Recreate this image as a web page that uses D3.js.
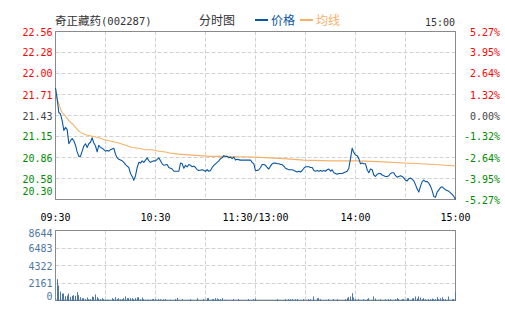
<!DOCTYPE html>
<html>
<head>
<meta charset="utf-8">
<script src="https://cdn.jsdelivr.net/npm/d3@7/dist/d3.min.js"></script>
<style>
  html, body { margin: 0; padding: 0; background: #fff; }
  svg { display: block; }
</style>
</head>
<body>
<svg id="chart" width="505" height="330"></svg>
<script>
// 奇正藏药 (002287) intraday minute chart
const stockName = "奇正藏药";
const stockCode = "(002287)";
const prevClose = 21.43;

const priceTicks = [22.56, 22.28, 22.00, 21.71, 21.43, 21.15, 20.86, 20.58, 20.30];
const pctTicks = ["5.27%", "3.95%", "2.64%", "1.32%", "0.00%", "-1.32%", "-2.64%", "-3.95%", "-5.27%"];
const timeTicks = [0, 60, 120, 180, 240];
const timeLabels = ["09:30", "10:30", "11:30/13:00", "14:00", "15:00"];
const volTicks = [8644, 6483, 4322, 2161, 0];

// minute offset from 09:30 (lunch break removed) and last price
const priceMinutes = [
  0,1,2,3,4,5,6,7,8,9,10,11,12,13,14,15,16,17,18,19,20,21,22,23,24,25,26,27,28,29,
  30,31,32,33,34,35,36,37,38,39,40,41,42,43,44,45,46,47,48,49,50,51,52,53,54,55,56,57,58,59,
  60,62,63,64,65,67,68,70,71,72,74,75,76,77,78,79,80,81,82,83,84,85,86,88,89,
  90,91,92,93,94,95,96,97,98,99,100,101,102,103,104,105,106,107,108,109,111,114,117,118,119,
  120,121,122,123,124,125,126,127,128,129,130,131,132,133,134,135,136,137,138,139,140,142,143,144,145,146,147,148,149,
  150,152,153,154,155,156,157,158,159,160,161,162,163,164,165,166,167,168,169,170,172,173,174,175,176,177,178,179,
  180,181,182,183,184,185,186,187,188,189,190,191,192,193,194,195,196,197,198,199,200,201,202,203,204,205,206,207,208,209,
  210,211,212,213,214,215,216,217,218,219,220,221,222,223,224,225,226,227,228,229,230,231,232,233,234,235,236,237,238,239,240
];
const prices = [
  21.80,21.65,21.47,21.45,21.36,21.23,21.27,21.24,21.05,21.09,21.12,21.09,21.03,20.94,20.88,20.88,20.95,21.02,21.05,21.00,21.05,21.07,21.13,21.06,21.02,20.94,21.03,21.00,20.99,20.97,
  20.95,20.96,20.95,20.97,20.98,20.99,20.91,20.86,20.84,20.83,20.82,20.80,20.77,20.75,20.73,20.65,20.61,20.56,20.62,20.73,20.80,20.79,20.82,20.80,20.83,20.86,20.82,20.80,20.81,20.82,
  20.82,20.86,20.82,20.78,20.76,20.77,20.73,20.71,20.68,20.68,20.68,20.79,20.78,20.72,20.76,20.74,20.77,20.76,20.74,20.75,20.73,20.70,20.69,20.70,20.69,
  20.68,20.70,20.68,20.69,20.73,20.76,20.78,20.80,20.82,20.85,20.86,20.89,20.88,20.88,20.86,20.87,20.85,20.87,20.83,20.84,20.83,20.83,20.83,20.80,20.78,
  20.69,20.69,20.70,20.73,20.77,20.77,20.76,20.73,20.71,20.75,20.78,20.79,20.79,20.78,20.78,20.77,20.77,20.75,20.72,20.71,20.70,20.70,20.69,20.68,20.67,20.68,20.67,20.69,20.72,
  20.74,20.74,20.73,20.73,20.69,20.68,20.69,20.68,20.69,20.68,20.69,20.68,20.70,20.71,20.68,20.70,20.66,20.65,20.64,20.65,20.65,20.66,20.67,20.68,20.72,20.85,20.99,20.93,
  20.90,20.89,20.85,20.78,20.79,20.78,20.78,20.70,20.66,20.71,20.70,20.63,20.61,20.64,20.65,20.65,20.63,20.62,20.61,20.61,20.62,20.65,20.66,20.66,20.62,20.60,20.61,20.62,20.61,20.59,
  20.56,20.55,20.58,20.59,20.57,20.55,20.50,20.44,20.40,20.48,20.54,20.56,20.54,20.54,20.52,20.48,20.42,20.34,20.33,20.40,20.43,20.46,20.47,20.45,20.43,20.42,20.41,20.39,20.37,20.34,20.30
];

// volume-weighted average price
const avgMinutes = [0,1,2,3,4,6,8,10,12,14,16,18,22,26,30,34,38,42,46,50,54,58,62,66,70,74,80,86,93,101,110,120,128,137,149,165,181,194,209,219,228,240];
const avgPrices = [21.79,21.65,21.59,21.52,21.47,21.42,21.36,21.32,21.27,21.22,21.19,21.17,21.15,21.13,21.10,21.08,21.06,21.03,21.00,20.99,20.97,20.97,20.95,20.94,20.92,20.91,20.90,20.89,20.88,20.88,20.875,20.87,20.86,20.85,20.83,20.82,20.82,20.81,20.79,20.78,20.77,20.75];

// traded volume per minute (lots)
const volMinutes = [
  1,2,3,4,5,6,7,8,9,10,11,12,13,14,15,16,17,18,19,20,21,22,23,24,25,26,27,28,29,30,31,32,34,35,36,37,38,39,40,41,42,43,44,45,46,47,48,49,50,51,52,53,54,55,56,57,58,59,60,
  62,63,65,66,69,72,73,76,81,85,89,91,92,94,95,96,97,98,99,100,102,107,110,116,119,120,
  133,138,140,141,142,144,145,149,152,153,155,157,158,159,164,167,169,174,175,176,177,178,179,180,
  182,185,187,188,191,192,195,198,200,201,204,205,206,208,209,211,212,214,215,216,217,218,219,220,
  221,222,224,225,226,227,228,229,230,231,232,233,234,236,238,239,240
];
const volumes = [
  2635,1850,1110,860,860,535,617,864,453,576,658,576,1030,658,412,288,288,165,370,165,165,494,412,741,412,247,165,288,165,82,82,82,288,165,412,165,288,165,165,288,494,288,288,288,288,165,288,370,412,165,370,165,82,82,82,82,165,165,165,
  165,165,165,165,82,165,329,165,165,288,165,288,288,165,165,288,247,165,165,288,82,165,165,165,165,247,
  165,165,165,165,165,165,165,165,165,165,494,288,288,165,165,165,165,165,288,412,494,905,370,165,
  165,165,165,288,494,247,165,165,165,165,165,288,165,165,165,288,288,247,288,494,247,494,370,165,
  288,165,165,165,247,165,165,412,165,288,412,165,165,494,165,165,1000
];

const C = {
  frame: "#8a8a8a",
  grid: "#d2d2d2",
  up: "#ff0000",
  down: "#008a00",
  flat: "#444444",
  price: "#0a56a4",
  avg: "#f5b168",
  vol: "#50789f",
  volText: "#50789f",
  text: "#333333"
};
const mono = "'DejaVu Sans Mono', 'Liberation Mono', monospace";
const cjk = "'Noto Sans CJK SC', 'Noto Sans', sans-serif";

const svg = d3.select("#chart");
svg.append("rect").attr("width", 505).attr("height", 330).attr("fill", "#fff");

const left = 55.5, right = 455.5;
const mainTop = 31.5, mainBottom = 199.5;
const volTop = 230.5, volBottom = 300.5;

const x = d3.scaleLinear().domain([0, 240]).range([left, right]);
const y = d3.scaleLinear().domain([priceTicks[priceTicks.length - 1], priceTicks[0]]).range([mainBottom, mainTop]);
const vy = d3.scaleLinear().domain([0, volTicks[0]]).range([volBottom, volTop]);

const crisp = v => Math.round(v - 0.5) + 0.5;
const gridMinutes = d3.range(30, 240, 30);

function panelGrid(g, top, bottom, hValues, scale) {
  g.selectAll("line.v").data(gridMinutes).join("line")
    .attr("x1", d => crisp(x(d))).attr("x2", d => crisp(x(d)))
    .attr("y1", top).attr("y2", bottom)
    .attr("stroke", C.grid).attr("stroke-dasharray", "4,2");
  g.selectAll("line.h").data(hValues).join("line")
    .attr("x1", left).attr("x2", right)
    .attr("y1", d => crisp(scale(d))).attr("y2", d => crisp(scale(d)))
    .attr("stroke", C.grid).attr("stroke-dasharray", "4,2");
}

// ---- price panel
const mainG = svg.append("g");
panelGrid(mainG.append("g"), mainTop, mainBottom, priceTicks.slice(1, -1), y);
mainG.append("rect")
  .attr("x", left).attr("y", mainTop)
  .attr("width", right - left).attr("height", mainBottom - mainTop)
  .attr("fill", "none").attr("stroke", C.frame);

const tickColor = v => v > prevClose ? C.up : (v < prevClose ? C.down : C.flat);

const clamp = (v, lo, hi) => Math.max(lo, Math.min(hi, v));

mainG.append("g").selectAll("text").data(priceTicks).join("text")
  .attr("x", 52.5)
  .attr("y", d => clamp(y(d) + 0.5, 32, 191) + 3.6)
  .attr("text-anchor", "end")
  .attr("font-family", mono).attr("font-size", 10)
  .attr("fill", d => tickColor(d))
  .text(d => d.toFixed(2));

mainG.append("g").selectAll("text").data(pctTicks).join("text")
  .attr("x", 500)
  .attr("y", (d, i) => Math.max(y(priceTicks[i]) + 0.5, 32) + 3.6)
  .attr("text-anchor", "end")
  .attr("font-family", mono).attr("font-size", 10)
  .attr("fill", (d, i) => tickColor(priceTicks[i]))
  .text(d => d);

const avgLine = d3.line().x(i => x(avgMinutes[i])).y(i => y(avgPrices[i]));
mainG.append("path")
  .attr("d", avgLine(d3.range(avgMinutes.length)))
  .attr("fill", "none").attr("stroke", C.avg).attr("stroke-width", 1.1);

const priceLine = d3.line().x(i => x(priceMinutes[i])).y(i => y(prices[i]));
mainG.append("path")
  .attr("d", priceLine(d3.range(priceMinutes.length)))
  .attr("fill", "none").attr("stroke", C.price).attr("stroke-width", 1.1)
  .attr("stroke-linejoin", "round");

// time axis
svg.append("g").selectAll("text").data(timeTicks).join("text")
  .attr("x", d => x(d))
  .attr("y", 220.5)
  .attr("text-anchor", "middle")
  .attr("font-family", mono).attr("font-size", 10)
  .attr("fill", "#000")
  .text((d, i) => timeLabels[i]);

// ---- volume panel
const volG = svg.append("g");
panelGrid(volG.append("g"), volTop, volBottom, volTicks.slice(1, -1), vy);
volG.append("rect")
  .attr("x", left).attr("y", volTop)
  .attr("width", right - left).attr("height", volBottom - volTop)
  .attr("fill", "none").attr("stroke", C.frame);

volG.append("g").selectAll("rect").data(d3.range(volMinutes.length)).join("rect")
  .attr("x", i => Math.round(x(volMinutes[i]) - 0.5))
  .attr("width", 1)
  .attr("y", i => vy(volumes[i]))
  .attr("height", i => volBottom + 0.5 - vy(volumes[i]))
  .attr("fill", C.vol);

volG.append("line")
  .attr("x1", left).attr("x2", right).attr("y1", volBottom - 0.5).attr("y2", volBottom - 0.5)
  .attr("stroke", C.vol).attr("stroke-opacity", 0.6);

volG.append("g").selectAll("text").data(volTicks).join("text")
  .attr("x", 52.5)
  .attr("y", d => clamp(vy(d) + 0.5, 233.5, 296.5) + 3.6)
  .attr("text-anchor", "end")
  .attr("font-family", mono).attr("font-size", 10)
  .attr("fill", C.volText)
  .text(d => d);

// ---- header
const head = svg.append("g");
head.append("text")
  .attr("x", 55).attr("y", 25)
  .attr("font-family", cjk).attr("font-size", 11.5).attr("fill", C.text)
  .text(stockName);
head.append("text")
  .attr("x", 101).attr("y", 25)
  .attr("font-family", mono).attr("font-size", 10.5).attr("fill", C.text)
  .text(stockCode);
head.append("text")
  .attr("x", 199).attr("y", 25)
  .attr("font-family", cjk).attr("font-size", 12).attr("fill", C.text)
  .text("分时图");

const legend = [
  { label: "价格", color: C.price, x: 255 },
  { label: "均线", color: C.avg, x: 300 }
];
const lg = head.selectAll("g.legend").data(legend).join("g");
lg.append("line")
  .attr("x1", d => d.x).attr("x2", d => d.x + 13)
  .attr("y1", 20).attr("y2", 20)
  .attr("stroke", d => d.color).attr("stroke-width", 2);
lg.append("text")
  .attr("x", d => d.x + 16).attr("y", 25)
  .attr("font-family", cjk).attr("font-size", 12)
  .attr("fill", d => d.color)
  .text(d => d.label);

head.append("text")
  .attr("x", 455).attr("y", 26)
  .attr("text-anchor", "end")
  .attr("font-family", mono).attr("font-size", 10).attr("fill", C.text)
  .text(timeLabels[timeLabels.length - 1]);
</script>
</body>
</html>
